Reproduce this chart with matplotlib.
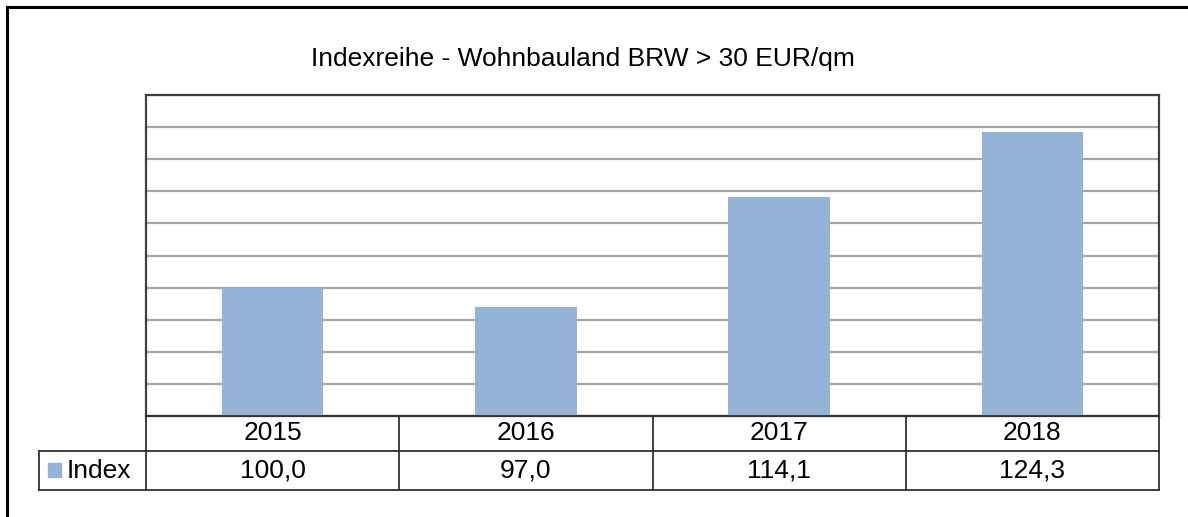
import matplotlib
matplotlib.use("Agg")
import matplotlib.pyplot as plt
from matplotlib.lines import Line2D
from matplotlib.patches import Rectangle
import matplotlib.transforms as mtransforms

years = ["2015", "2016", "2017", "2018"]
index_values = [100.0, 97.0, 114.1, 124.3]
value_labels = ["100,0", "97,0", "114,1", "124,3"]
series_name = "Index"
title = "Indexreihe - Wohnbauland BRW > 30 EUR/qm"

plt.rcParams['font.family'] = ['Liberation Sans', 'DejaVu Sans']

W, H = 1188, 517
fig = plt.figure(figsize=(W / 100, H / 100), dpi=100)
bar_color = "#95B3D7"
fs = 19

def fx(px):
    return px / W

def fy(py):
    return 1 - py / H

ax = fig.add_axes([fx(146), fy(416), fx(1159) - fx(146), fy(95) - fy(416)])
x = list(range(len(years)))
ax.bar(x, index_values, width=0.4, color=bar_color, zorder=3)
ax.set_xlim(-0.5, len(years) - 0.5)
ax.set_ylim(80, 130)
ax.set_yticks([80 + 5 * i for i in range(11)])
ax.set_xticks([])
ax.tick_params(axis='y', length=0, labelleft=False)
ax.grid(axis='y', color='#A6A6A6', linewidth=1.6, zorder=0)
for s in ax.spines.values():
    s.set_color('#404040')
    s.set_linewidth(1.6)

# Outer frame (left and top)
fig.add_artist(Line2D([fx(7), fx(7)], [fy(7), 0], transform=fig.transFigure, color='black', lw=2.2))
fig.add_artist(Line2D([fx(7), 1], [fy(7), fy(7)], transform=fig.transFigure, color='black', lw=2.2))

# Title
fig.text(fx(583), fy(59), title, ha='center', va='center', fontsize=fs, color='black')

# Data table
tr = mtransforms.blended_transform_factory(ax.transData, fig.transFigure)
lc = '#303030'
lw = 1.3
y0, y1, y2 = fy(416), fy(451), fy(490)
fig.add_artist(Line2D([fx(146), fx(1159)], [y0, y0], transform=fig.transFigure, color=lc, lw=lw))
fig.add_artist(Line2D([fx(39), fx(1159)], [y1, y1], transform=fig.transFigure, color=lc, lw=lw))
fig.add_artist(Line2D([fx(39), fx(1159)], [y2, y2], transform=fig.transFigure, color=lc, lw=lw))
fig.add_artist(Line2D([fx(39), fx(39)], [y1, y2], transform=fig.transFigure, color=lc, lw=lw))
for b in [i - 0.5 for i in range(len(years) + 1)]:
    fig.add_artist(Line2D([b, b], [y0, y2], transform=tr, color=lc, lw=lw))

for i, (yr, lab) in enumerate(zip(years, value_labels)):
    fig.text(i, (y0 + y1) / 2, yr, transform=tr, ha='center', va='center', fontsize=fs)
    fig.text(i, (y1 + y2) / 2, lab, transform=tr, ha='center', va='center', fontsize=fs)

# legend key
fig.add_artist(Rectangle((fx(48), fy(477)), fx(13), fy(463) - fy(477), transform=fig.transFigure,
                         color=bar_color))
fig.text(fx(67), (y1 + y2) / 2, series_name, ha='left', va='center', fontsize=fs)

fig.savefig("out.png", dpi=100)
